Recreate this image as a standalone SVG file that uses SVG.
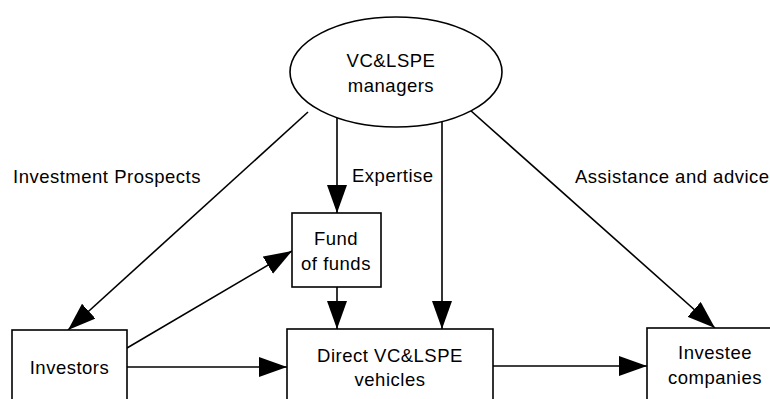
<svg xmlns="http://www.w3.org/2000/svg" width="770" height="399" viewBox="0 0 770 399">
<defs>
<style>
.shape{fill:#fff;stroke:#000;stroke-width:1.6}
.edge{fill:none;stroke:#000;stroke-width:1.6}
text{font-family:"Liberation Sans",Arial,sans-serif;font-size:18.5px;letter-spacing:0.5px;fill:#000}
.c{text-anchor:middle}
</style>
<marker id="arr" markerUnits="userSpaceOnUse" markerWidth="30" markerHeight="22" refX="28" refY="10" orient="auto">
<path d="M0,0 L28,10 L0,20 z" fill="#000"/>
</marker>
</defs>
<rect width="770" height="399" fill="#fff"/>
<g id="connectors">
<line class="edge" x1="308" y1="112" x2="68" y2="330" marker-end="url(#arr)"/>
<line class="edge" x1="337" y1="118" x2="337" y2="213" marker-end="url(#arr)"/>
<line class="edge" x1="442" y1="122" x2="442" y2="329" marker-end="url(#arr)"/>
<line class="edge" x1="470" y1="110" x2="715" y2="328" marker-end="url(#arr)"/>
<line class="edge" x1="337" y1="287" x2="337" y2="329" marker-end="url(#arr)"/>
<line class="edge" x1="127" y1="348" x2="292" y2="251" marker-end="url(#arr)"/>
<line class="edge" x1="127" y1="367" x2="287" y2="367" marker-end="url(#arr)"/>
<line class="edge" x1="493" y1="366" x2="647" y2="366" marker-end="url(#arr)"/>
</g>
<g id="labels">
<text x="13" y="183">Investment Prospects</text>
<text x="352" y="182">Expertise</text>
<text x="575" y="183">Assistance and advice</text>
</g>
<g id="managers">
<ellipse class="shape" cx="396" cy="72" rx="106" ry="55"/>
<text class="c" x="391" y="67">VC&amp;LSPE</text>
<text class="c" x="391" y="92">managers</text>
</g>
<g id="fund">
<rect class="shape" x="292" y="213" width="89" height="74"/>
<text class="c" x="336" y="245">Fund</text>
<text class="c" x="336" y="270">of funds</text>
</g>
<g id="investors">
<rect class="shape" x="12" y="330" width="115" height="90"/>
<text class="c" x="69.5" y="374">Investors</text>
</g>
<g id="direct">
<rect class="shape" x="287" y="329" width="206" height="90"/>
<text class="c" x="390" y="362">Direct VC&amp;LSPE</text>
<text class="c" x="390" y="386">vehicles</text>
</g>
<g id="investee">
<rect class="shape" x="647" y="328" width="146" height="90"/>
<text class="c" x="715" y="359">Investee</text>
<text class="c" x="715" y="384">companies</text>
</g>
</svg>
